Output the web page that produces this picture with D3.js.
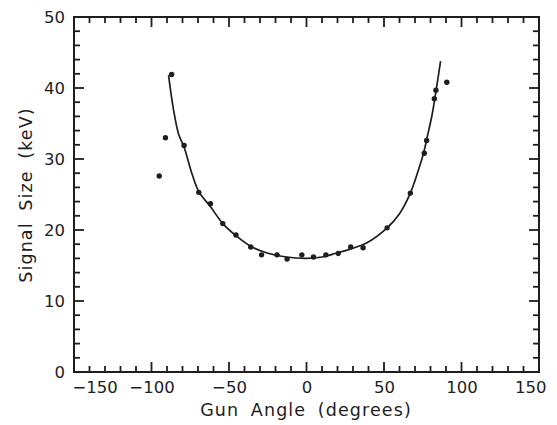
<!DOCTYPE html>
<html>
<head>
<meta charset="utf-8">
<script src="https://cdn.jsdelivr.net/npm/d3@7"></script>
<style>
  html, body { margin: 0; padding: 0; background: #fff; }
  svg { display: block; }
  text { font-family: "DejaVu Sans", "Liberation Sans", sans-serif; fill: #1e1e1e; }
</style>
</head>
<body>
<svg id="chart" width="557" height="425"></svg>
<script>
// Measured signal size vs. gun angle
const angles = [-95, -91, -87, -79, -69.5, -62, -54, -45.5, -36, -29, -19, -12.5, -3,
                4.5, 12.5, 20.5, 28.5, 36.5, 52, 67, 76, 77.5, 82.5, 83.5, 90.5];
const signals = [27.6, 33.0, 41.9, 31.9, 25.3, 23.7, 20.9, 19.3, 17.6, 16.5, 16.5, 15.9, 16.5,
                 16.2, 16.5, 16.7, 17.6, 17.5, 20.3, 25.2, 30.8, 32.6, 38.5, 39.7, 40.8];

// Fitted curve, sampled
const fitAngles = [-89, -86, -82.5, -79, -74, -69.5, -62, -54, -45.5, -36, -26, -13, 0,
                   10, 17, 28, 39, 52, 60, 67, 72, 75.5, 78, 81, 83.5, 86.5];
const fitSignals = [41.8, 37.2, 33.5, 31.7, 28.0, 25.4, 23.3, 20.9, 19.2, 17.7, 16.8, 16.2, 16.0,
                    16.2, 16.6, 17.3, 18.2, 20.3, 22.3, 25.2, 28.3, 30.8, 33.2, 36.2, 39.5, 43.8];

const xMajor = [-150, -100, -50, 0, 50, 100, 150];
const yMajor = [0, 10, 20, 30, 40, 50];

const ink = "#1e1e1e";
const plotLeft = 74, plotRight = 539, plotTop = 17, plotBottom = 372;
const majorLen = 10, minorLen = 6;

const svg = d3.select("#chart");
const x = d3.scaleLinear().domain([-150, 150]).range([plotLeft, plotRight]);
const y = d3.scaleLinear().domain([0, 50]).range([plotBottom, plotTop]);

const xMinor = d3.range(-150, 151, 10).filter(v => !xMajor.includes(v));
const yMinor = d3.range(0, 51, 2).filter(v => !yMajor.includes(v));

const fmt = v => v < 0 ? "\u2212" + Math.abs(v) : String(v);

// Tick labels from the library axes (tick marks drawn separately below)
function labelsOnly(g) {
  g.select(".domain").remove();
  g.selectAll(".tick line").remove();
  g.selectAll("text").attr("font-size", 16.5).style("fill", ink);
}

const gx = svg.append("g").attr("transform", `translate(0,${plotBottom})`)
  .call(d3.axisBottom(x).tickValues(xMajor).tickFormat(fmt).tickSize(0).tickPadding(9))
  .call(labelsOnly);
// keep the end labels inside the frame width
gx.selectAll(".tick").filter(d => d === -150).select("text").attr("text-anchor", "start").attr("x", -2);
gx.selectAll(".tick").filter(d => d === 150).select("text").attr("text-anchor", "end").attr("x", 7);

svg.append("g").attr("transform", `translate(${plotLeft},0)`)
  .call(d3.axisLeft(y).tickValues(yMajor).tickFormat(fmt).tickSize(0).tickPadding(9))
  .call(labelsOnly);

// Frame
svg.append("rect")
  .attr("x", plotLeft).attr("y", plotTop)
  .attr("width", plotRight - plotLeft).attr("height", plotBottom - plotTop)
  .attr("fill", "none").attr("stroke", ink).attr("stroke-width", 2);

// Inward tick marks on all four sides
const xTicks = xMajor.map(v => [v, majorLen]).concat(xMinor.map(v => [v, minorLen]));
const yTicks = yMajor.map(v => [v, majorLen]).concat(yMinor.map(v => [v, minorLen]));
const tickLayer = svg.append("g");

function tickLines(cls, data, x1, x2, y1, y2) {
  tickLayer.selectAll("line." + cls).data(data).join("line")
    .attr("class", cls)
    .attr("x1", x1).attr("x2", x2).attr("y1", y1).attr("y2", y2)
    .attr("stroke", ink).attr("stroke-width", 1.8);
}
tickLines("xb", xTicks, d => x(d[0]), d => x(d[0]), plotBottom, d => plotBottom - d[1]);
tickLines("xt", xTicks, d => x(d[0]), d => x(d[0]), plotTop, d => plotTop + d[1]);
tickLines("yl", yTicks, plotLeft, d => plotLeft + d[1], d => y(d[0]), d => y(d[0]));
tickLines("yr", yTicks, plotRight, d => plotRight - d[1], d => y(d[0]), d => y(d[0]));

// Fit curve
const fit = fitAngles.map((a, i) => [a, fitSignals[i]]);
svg.append("path")
  .datum(fit)
  .attr("fill", "none")
  .attr("stroke", ink)
  .attr("stroke-width", 1.7)
  .attr("d", d3.line().x(d => x(d[0])).y(d => y(d[1])).curve(d3.curveCatmullRom.alpha(0.5)));

// Data points
svg.append("g").selectAll("circle")
  .data(angles.map((a, i) => [a, signals[i]]))
  .join("circle")
  .attr("cx", d => x(d[0]))
  .attr("cy", d => y(d[1]))
  .attr("r", 2.7)
  .attr("fill", ink);

// Axis titles
svg.append("text")
  .attr("x", 306).attr("y", 416)
  .attr("text-anchor", "middle")
  .attr("font-size", 17.5)
  .attr("letter-spacing", 1.1)
  .attr("word-spacing", 5)
  .text("Gun Angle (degrees)");

svg.append("text")
  .attr("transform", "translate(32,195) rotate(-90)")
  .attr("text-anchor", "middle")
  .attr("font-size", 17.5)
  .attr("letter-spacing", 1.1)
  .attr("word-spacing", 5)
  .text("Signal Size (keV)");
</script>
</body>
</html>
